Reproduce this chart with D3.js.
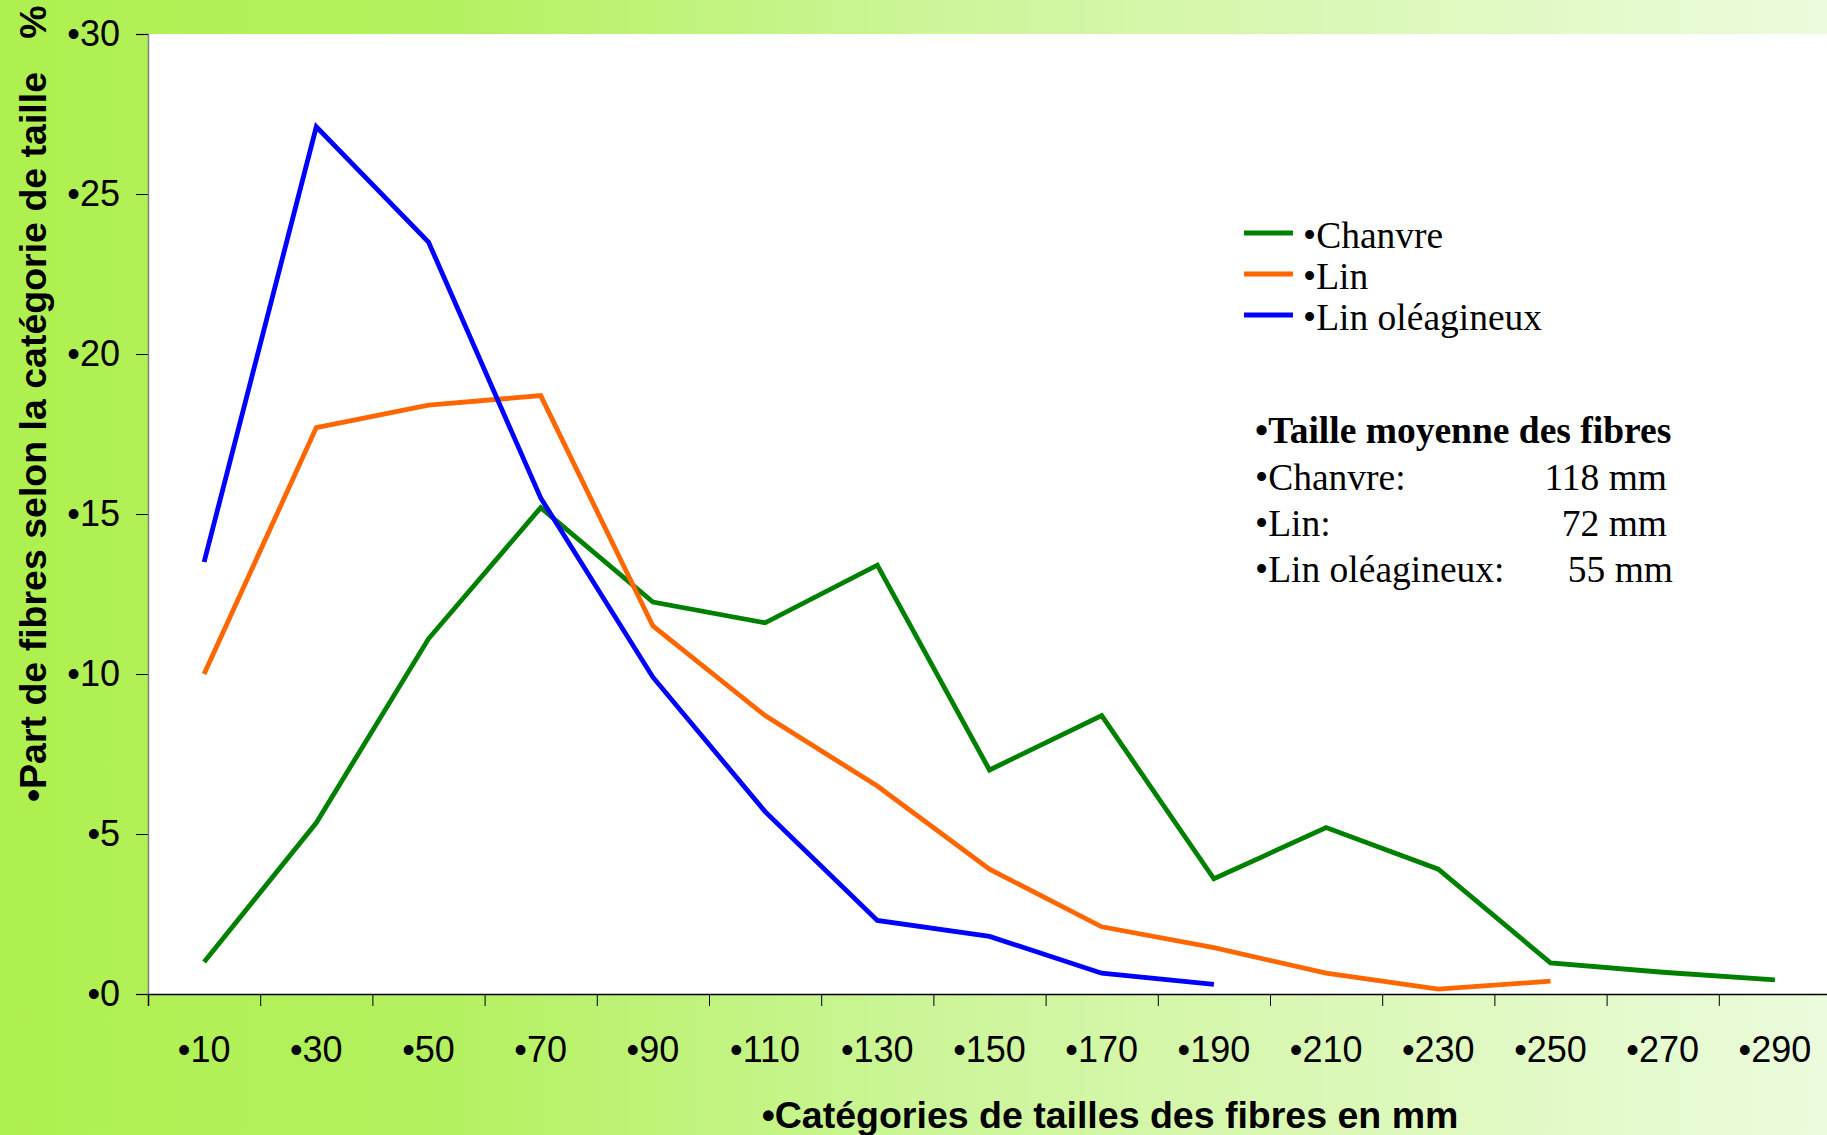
<!DOCTYPE html>
<html>
<head>
<meta charset="utf-8">
<script src="https://cdn.jsdelivr.net/npm/d3@7"></script>
<style>
  body { margin: 0; padding: 0; overflow: hidden; }
  .tickText { font-family: "Liberation Sans", Arial, sans-serif; font-size: 36px; fill: #000; }
  .axisTitle { font-family: "Liberation Sans", Arial, sans-serif; font-size: 37.5px; font-weight: bold; fill: #000; }
  .legendText { font-family: "Liberation Serif", "Times New Roman", serif; font-size: 37.5px; fill: #000; }
</style>
</head>
<body>
<div id="chart"></div>
<script>

// categories de tailles (mm)
var categories = ["10", "30", "50", "70", "90", "110", "130", "150", "170", "190", "210", "230", "250", "270", "290"];

// part de fibres (%) par categorie
var chanvre = [1.0, 5.35, 11.1, 15.2, 12.25, 11.6, 13.4, 7.0, 8.7, 3.6, 5.2, 3.9, 0.97, 0.68, 0.44];
var lin = [10.0, 17.7, 18.4, 18.7, 11.5, 8.7, 6.5, 3.9, 2.1, 1.45, 0.65, 0.15, 0.4, null, null];
var linOleagineux = [13.5, 27.1, 23.5, 15.5, 9.9, 5.7, 2.3, 1.8, 0.65, 0.3, null, null, null, null, null];

var seriesNames = ["Chanvre", "Lin", "Lin oléagineux"];
var seriesColors = ["#008000", "#ff6600", "#0000ff"];

var yTicks = [0, 5, 10, 15, 20, 25, 30];

// texte "taille moyenne"
var meanTitle = "Taille moyenne des fibres";
var meanLabels = ["Chanvre:", "Lin:", "Lin oléagineux:"];
var meanValues = ["118 mm", "72 mm", "55 mm"];

var W = 1827, H = 1135;
var margin = {top: 34, right: -4, bottom: 141, left: 148};
var width = W - margin.left - margin.right,
    height = H - margin.top - margin.bottom;

var svg = d3.select("#chart")
  .append("svg")
    .attr("width", W)
    .attr("height", H);

// green gradient background
var defs = svg.append("defs");
var grad = defs.append("linearGradient")
  .attr("id", "bg")
  .attr("x1", "0%").attr("x2", "100%")
  .attr("y1", "0%").attr("y2", "0%");
grad.append("stop").attr("offset", "0%").attr("stop-color", "#aef04f");
grad.append("stop").attr("offset", "25%").attr("stop-color", "#b4f160");
grad.append("stop").attr("offset", "50%").attr("stop-color", "#cbf597");
grad.append("stop").attr("offset", "75%").attr("stop-color", "#dcf8b9");
grad.append("stop").attr("offset", "100%").attr("stop-color", "#ebfbdc");

svg.append("rect")
  .attr("width", W).attr("height", H)
  .attr("fill", "url(#bg)");

var chartGroup = svg.append("g")
  .attr("transform", `translate(${margin.left}, ${margin.top})`);

// plot area
chartGroup.append("rect")
  .attr("width", width)
  .attr("height", height)
  .attr("fill", "#ffffff");

// scales
var xBand = d3.scaleBand()
  .domain(categories)
  .range([0, width])
  .padding(0);

var xEdge = d3.scaleLinear()
  .domain([0, categories.length])
  .range([0, width]);

var yLinearScale = d3.scaleLinear()
  .domain([0, 30])
  .range([height, 0]);

// y axis
var leftAxis = d3.axisLeft(yLinearScale)
  .tickValues(yTicks)
  .tickSize(12)
  .tickPadding(16)
  .tickFormat(d => "•" + d);

var yAxisG = chartGroup.append("g").call(leftAxis);
yAxisG.select(".domain").attr("stroke", "#808080").attr("stroke-width", 1.5);
yAxisG.selectAll(".tick line").attr("stroke", "#000");
yAxisG.selectAll(".tick text").attr("class", "tickText").attr("font-size", null).attr("font-family", null);

// x axis: tick marks between categories
var edgeAxis = d3.axisBottom(xEdge)
  .tickValues(d3.range(0, categories.length + 1))
  .tickSize(12)
  .tickFormat("");

var xAxisG = chartGroup.append("g")
  .attr("transform", `translate(0, ${height})`)
  .call(edgeAxis);
xAxisG.select(".domain").attr("stroke", "#000").attr("stroke-width", 1.5);
xAxisG.selectAll(".tick line").attr("stroke", "#000");

// x labels centred on categories
var bottomAxis = d3.axisBottom(xBand)
  .tickSize(0)
  .tickPadding(42)
  .tickFormat(d => "•" + d);

var xLabG = chartGroup.append("g")
  .attr("transform", `translate(0, ${height})`)
  .call(bottomAxis);
xLabG.select(".domain").remove();
xLabG.selectAll(".tick text").attr("class", "tickText").attr("font-size", null).attr("font-family", null);

// lines
var allSeries = [chanvre, lin, linOleagineux];

var line = d3.line()
  .defined(d => d.v != null)
  .x(d => xBand(d.c) + xBand.bandwidth() / 2)
  .y(d => yLinearScale(d.v));

allSeries.forEach(function(vals, i) {
  var pts = categories.map((c, j) => ({c: c, v: vals[j]}));
  chartGroup.append("path")
    .datum(pts)
    .attr("fill", "none")
    .attr("stroke", seriesColors[i])
    .attr("stroke-width", 4.8)
    .attr("stroke-linejoin", "miter")
    .attr("d", line);
});

// axis titles
svg.append("text")
  .attr("class", "axisTitle")
  .attr("x", 1110)
  .attr("y", 1128)
  .attr("text-anchor", "middle")
  .text("•Catégories de tailles des fibres en mm");

svg.append("text")
  .attr("class", "axisTitle")
  .attr("transform", "translate(46, 437) rotate(-90)")
  .attr("text-anchor", "middle")
  .text("•Part de fibres selon la catégorie de taille");

svg.append("text")
  .attr("class", "axisTitle")
  .attr("transform", "translate(46, 22) rotate(-90)")
  .attr("text-anchor", "middle")
  .text("%");

// legend
var legend = svg.append("g");
seriesNames.forEach(function(name, i) {
  var ly = 233 + i * 41;
  legend.append("line")
    .attr("x1", 1244).attr("x2", 1293)
    .attr("y1", ly).attr("y2", ly)
    .attr("stroke", seriesColors[i])
    .attr("stroke-width", 5);
  legend.append("text")
    .attr("class", "legendText")
    .attr("x", 1303)
    .attr("y", ly + 2)
    .attr("dy", "0.35em")
    .text("•" + name);
});

// mean size block
var stats = svg.append("g");
stats.append("text")
  .attr("class", "legendText")
  .attr("font-weight", "bold")
  .attr("x", 1255)
  .attr("y", 430)
  .attr("dy", "0.35em")
  .text("•" + meanTitle);

meanLabels.forEach(function(lab, i) {
  var sy = 477 + i * 46;
  stats.append("text")
    .attr("class", "legendText")
    .attr("x", 1255)
    .attr("y", sy)
    .attr("dy", "0.35em")
    .text("•" + lab);
  stats.append("text")
    .attr("class", "legendText")
    .attr("x", i == 2 ? 1673 : 1667)
    .attr("y", sy)
    .attr("dy", "0.35em")
    .attr("text-anchor", "end")
    .text(meanValues[i]);
});

</script>
</body>
</html>
